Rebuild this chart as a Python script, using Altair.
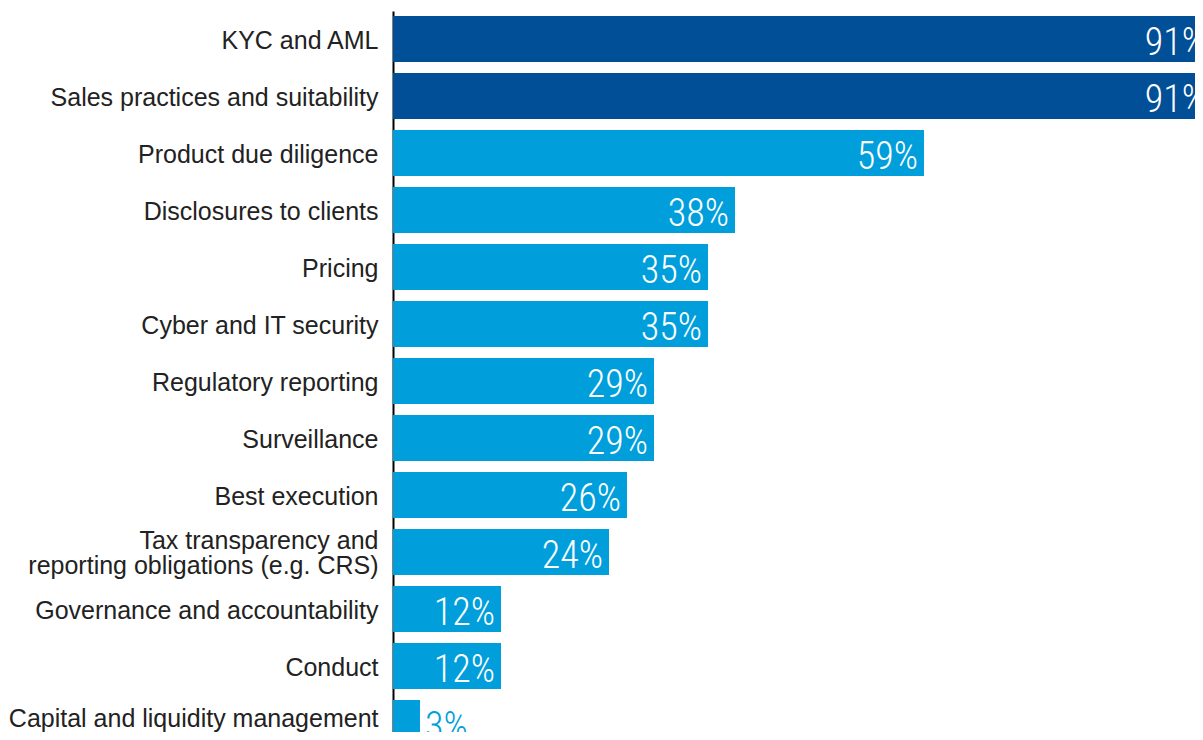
import altair as alt
import pandas as pd

categories = [
    "KYC and AML",
    "Sales practices and suitability",
    "Product due diligence",
    "Disclosures to clients",
    "Pricing",
    "Cyber and IT security",
    "Regulatory reporting",
    "Surveillance",
    "Best execution",
    "Tax transparency and\nreporting obligations (e.g. CRS)",
    "Governance and accountability",
    "Conduct",
    "Capital and liquidity management",
]
values = [91, 91, 59, 38, 35, 35, 29, 29, 26, 24, 12, 12, 3]
groups = ["top", "top"] + ["other"] * 11
labels = [f"{v}%" for v in values]

DARK = "#004F97"
LIGHT = "#009FDC"
PCT_FONT = "'Roboto Condensed', 'Liberation Sans Narrow', Roboto, sans-serif"

df = pd.DataFrame({"category": categories, "value": values, "group": groups, "label": labels})

label_offset = {
    "condition": [
        {"test": "indexof(datum.value, 'Tax') == 0", "value": -11},
        {"test": "indexof(datum.value, 'Capital') == 0", "value": -4},
    ],
    "value": 2,
}

y_enc = alt.Y(
    "category:N",
    sort=categories,
    scale=alt.Scale(range=[0, 740], paddingInner=0.193, paddingOuter=0.088),
    axis=alt.Axis(
        title=None,
        ticks=False,
        grid=False,
        domainColor="#000000",
        domainWidth=2,
        labelFont="Liberation Sans",
        labelFontSize=25,
        labelColor="#222222",
        labelPadding=15,
        labelLimit=0,
        labelLineHeight=25,
        labelOffset=label_offset,
        labelExpr="split(datum.label, '\\n')",
    ),
)
x_enc = alt.X("value:Q", scale=alt.Scale(domain=[0, 100], range=[0, 900]), axis=None)

base = alt.Chart(df).encode(y=y_enc, x=x_enc)

bars = base.mark_bar(clip=True).encode(
    color=alt.Color("group:N", scale=alt.Scale(domain=["top", "other"], range=[DARK, LIGHT]), legend=None)
)

inside = base.transform_filter("datum.value >= 5").mark_text(
    align="right", baseline="alphabetic", dx=-6, dy=16, clip=True,
    font=PCT_FONT, fontWeight=300, fontSize=38, color="white"
).encode(text="label:N")

outside = base.transform_filter("datum.value < 5").mark_text(
    align="left", baseline="alphabetic", dx=5, dy=16, clip=True,
    font=PCT_FONT, fontWeight=300, fontSize=38, color=LIGHT
).encode(text="label:N")

chart = (
    alt.layer(bars, inside, outside)
    .properties(
        width=802,
        height=721,
        padding={"left": 385, "top": 3, "right": 0, "bottom": 0},
        autosize=alt.AutoSizeParams(type="none"),
    )
    .configure_view(stroke=None)
)

chart.save("out.html", embed_options={"renderer": "svg", "actions": False})
